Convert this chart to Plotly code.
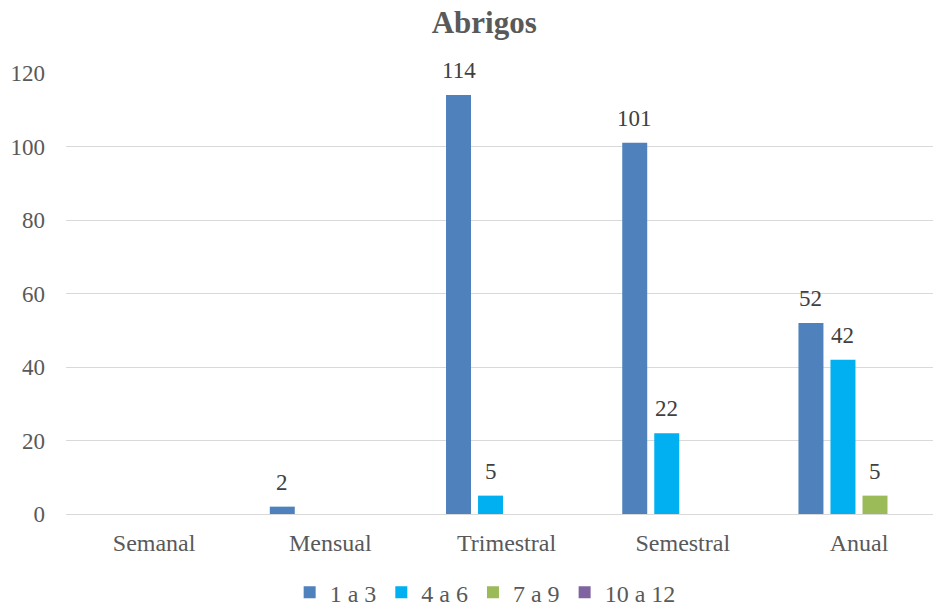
import plotly.graph_objects as go

# Frequency categories and the counts for each range group
categories = ["Semanal", "Mensual", "Trimestral", "Semestral", "Anual"]
series_names = ["1 a 3", "4 a 6", "7 a 9", "10 a 12"]
vals_1a3 = [None, 2, 114, 101, 52]
vals_4a6 = [None, None, 5, 22, 42]
vals_7a9 = [None, None, None, None, 5]
vals_10a12 = [None, None, None, None, None]
y_ticks = [0, 20, 40, 60, 80, 100, 120]

colors = ["#4F81BD", "#00B0F0", "#9BBB59", "#8064A2"]
font_family = "Liberation Serif"
bargap = 0.273
all_series = [vals_1a3, vals_4a6, vals_7a9, vals_10a12]

fig = go.Figure()
for name, vals, col in zip(series_names, all_series, colors):
    fig.add_trace(go.Bar(
        name=name,
        x=categories,
        y=vals,
        marker=dict(color=col, line=dict(width=0)),
        cliponaxis=False,
    ))

# Value labels sit a little above each bar, centred on its slot in the group
n = len(all_series)
slot = (1 - bargap) / n
for i, vals in enumerate(all_series):
    for j, v in enumerate(vals):
        if v:
            fig.add_annotation(
                x=j + (i - (n - 1) / 2) * slot, y=v, xref="x", yref="y",
                text=str(v), showarrow=False, yanchor="bottom", yshift=10,
                font=dict(family=font_family, size=23, color="#404040"),
            )

fig.update_layout(
    width=933, height=606,
    margin=dict(l=66, r=0, t=73, b=92, autoexpand=False),
    paper_bgcolor="white", plot_bgcolor="white",
    barmode="group", bargap=bargap, bargroupgap=0.22,
    title=dict(text="<b>Abrigos</b>", x=0.519, xref="container", xanchor="center",
               y=0.963, yanchor="middle",
               font=dict(family=font_family, size=31, color="#595959")),
    font=dict(family=font_family, size=22, color="#595959"),
    xaxis=dict(range=[-0.5, 4.42], showgrid=False, showline=False, ticks="",
               ticklabelstandoff=12,
               tickfont=dict(family=font_family, size=24, color="#595959")),
    yaxis=dict(range=[0, 120], tickvals=y_ticks, showgrid=True, gridcolor="#D9D9D9",
               gridwidth=1, zeroline=True, zerolinecolor="#D9D9D9", zerolinewidth=1,
               showline=False, ticks="", ticklabelstandoff=20,
               tickfont=dict(family=font_family, size=23, color="#595959")),
    legend=dict(orientation="h", x=0.52, xref="container", xanchor="center",
                y=0.022, yref="container", yanchor="middle",
                font=dict(family=font_family, size=24, color="#595959"), itemwidth=30),
)

fig.write_html("out.html")
